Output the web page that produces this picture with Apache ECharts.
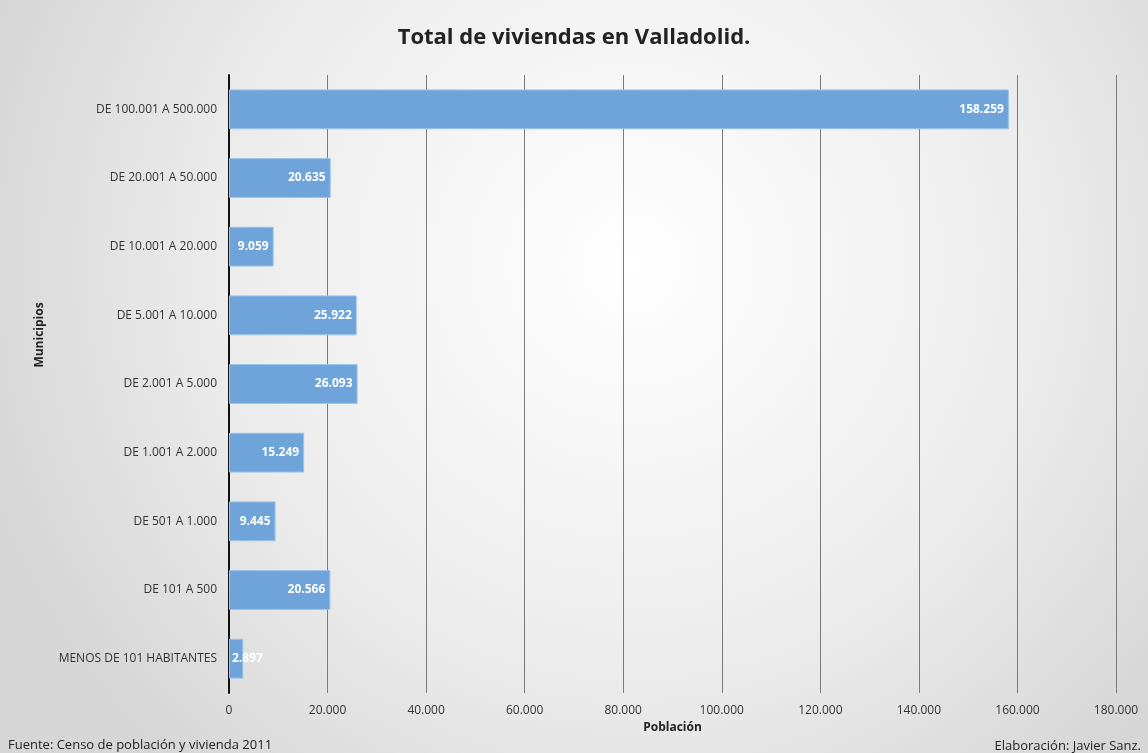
<!DOCTYPE html>
<html>
<head>
<meta charset="utf-8">
<script src="https://cdn.jsdelivr.net/npm/echarts@6/dist/echarts.min.js"></script>
<style>
  html, body { margin: 0; padding: 0; }
  #chart { width: 1148px; height: 753px; }
</style>
</head>
<body>
<div id="chart"></div>
<script>
const categories = [
  'DE 100.001 A 500.000',
  'DE 20.001 A 50.000',
  'DE 10.001 A 20.000',
  'DE 5.001 A 10.000',
  'DE 2.001 A 5.000',
  'DE 1.001 A 2.000',
  'DE 501 A 1.000',
  'DE 101 A 500',
  'MENOS DE 101 HABITANTES'
];
const viviendas = [158259, 20635, 9059, 25922, 26093, 15249, 9445, 20566, 2897];

// 12345 -> "12.345"
function miles(v) {
  return String(Math.round(v)).replace(/\B(?=(\d{3})+(?!\d))/g, '.');
}

const font = '"Open Sans", "Noto Sans", sans-serif';
const myChart = echarts.init(document.getElementById('chart'));
myChart.setOption({
  backgroundColor: new echarts.graphic.RadialGradient(0.55, 0.35, 0.9, [
    { offset: 0, color: '#ffffff' },
    { offset: 0.6, color: '#ececec' },
    { offset: 1, color: '#d6d6d6' }
  ]),
  textStyle: { fontFamily: font },
  title: [
    {
      text: 'Total de viviendas en Valladolid.',
      left: 'center', top: 22,
      textStyle: { fontSize: 22, fontWeight: 'bold', color: '#222', fontFamily: font }
    },
    {
      text: 'Fuente: Censo de población y vivienda 2011',
      left: 3, top: 734,
      textStyle: { fontSize: 13, fontWeight: 'normal', color: '#222', fontFamily: font }
    },
    {
      text: 'Elaboración: Javier Sanz.',
      right: 2, top: 735,
      textStyle: { fontSize: 13, fontWeight: 'normal', color: '#222', fontFamily: font }
    }
  ],
  graphic: [
    {
      type: 'text',
      x: 40, y: 335,
      rotation: Math.PI / 2,
      style: {
        text: 'Municipios',
        font: 'bold 12px ' + font,
        fill: '#222',
        align: 'center',
        verticalAlign: 'middle'
      }
    }
  ],
  grid: { left: 229, right: 32, top: 75, bottom: 60 },
  xAxis: {
    type: 'value',
    min: 0, max: 180000, interval: 20000,
    name: 'Población',
    nameLocation: 'middle',
    nameGap: 26,
    nameTextStyle: { fontSize: 12, fontWeight: 'bold', color: '#222' },
    axisLine: { show: false },
    axisTick: { show: false },
    axisLabel: { color: '#333', fontSize: 12, margin: 12, formatter: miles },
    splitLine: { show: true, lineStyle: { color: '#7a7a7a', width: 1 } }
  },
  yAxis: {
    type: 'category',
    data: categories,
    inverse: true,
    axisLine: { show: true, lineStyle: { color: '#111', width: 2 } },
    axisTick: { show: false },
    axisLabel: { color: '#333', fontSize: 12, margin: 12 }
  },
  series: [
    {
      type: 'bar',
      data: viviendas.map(v => v < 5000
        ? { value: v, label: { position: 'insideLeft', offset: [-2, 0] } }
        : v),
      barCategoryGap: '42%',
      itemStyle: { color: '#6ea4d9', borderColor: '#9cc3ea', borderWidth: 1 },
      label: {
        show: true,
        position: 'insideRight',
        color: '#fff',
        fontWeight: 'bold',
        fontSize: 12,
        formatter: p => miles(p.value)
      }
    }
  ]
});
</script>
</body>
</html>
